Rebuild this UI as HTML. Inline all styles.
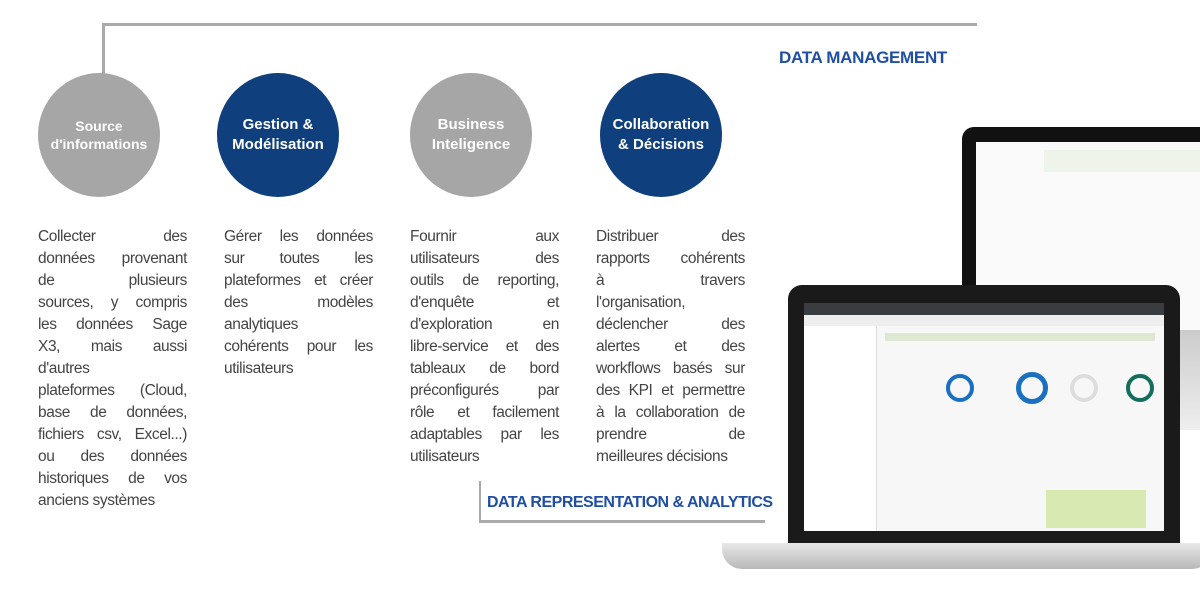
<!DOCTYPE html>
<html><head><meta charset="utf-8">
<style>
body{margin:0;width:1200px;height:600px;background:#fff;position:relative;overflow:hidden;font-family:"Liberation Sans",sans-serif;}
.ab{position:absolute;}
.circ{position:absolute;top:73px;width:122px;height:124px;border-radius:50%;color:#fff;font-weight:bold;font-size:15px;line-height:20px;display:flex;align-items:center;justify-content:center;text-align:center;}
.g{background:#a6a6a6;font-size:14px;line-height:18px;}
.b{background:#0f3f7c;}
.col{position:absolute;top:226px;width:149px;font-size:15.5px;letter-spacing:-0.4px;line-height:22px;color:#444;}
.col div{white-space:nowrap;height:22px;display:flex;justify-content:space-between;}
.col div.l{justify-content:flex-start;}
.title{position:absolute;color:#1f4fa3;font-weight:bold;font-size:17px;letter-spacing:-0.3px;z-index:5;}
</style></head><body>
<div class="ab" style="left:102px;top:23px;width:875px;height:3px;background:#aaa"></div>
<div class="ab" style="left:102px;top:23px;width:3px;height:52px;background:#aaa"></div>
<div class="title" style="left:779px;top:48px">DATA MANAGEMENT</div>

<div class="circ g" style="left:38px">Source<br>d'informations</div>
<div class="circ b" style="left:217px">Gestion &amp;<br>Modélisation</div>
<div class="circ g" style="left:410px;font-size:15px;line-height:20px">Business<br>Inteligence</div>
<div class="circ b" style="left:600px">Collaboration<br>&amp; Décisions</div>

<div class="col" style="left:38px">
<div><span>Collecter</span><span>des</span></div>
<div><span>données</span><span>provenant</span></div>
<div><span>de</span><span>plusieurs</span></div>
<div><span>sources,</span><span>y</span><span>compris</span></div>
<div><span>les</span><span>données</span><span>Sage</span></div>
<div><span>X3,</span><span>mais</span><span>aussi</span></div>
<div class="l"><span>d'autres</span></div>
<div><span>plateformes</span><span>(Cloud,</span></div>
<div><span>base</span><span>de</span><span>données,</span></div>
<div><span>fichiers</span><span>csv,</span><span>Excel...)</span></div>
<div><span>ou</span><span>des</span><span>données</span></div>
<div><span>historiques</span><span>de</span><span>vos</span></div>
<div class="l"><span>anciens systèmes</span></div>
</div>
<div class="col" style="left:224px">
<div><span>Gérer</span><span>les</span><span>données</span></div>
<div><span>sur</span><span>toutes</span><span>les</span></div>
<div><span>plateformes</span><span>et</span><span>créer</span></div>
<div><span>des</span><span>modèles</span></div>
<div class="l"><span>analytiques</span></div>
<div><span>cohérents</span><span>pour</span><span>les</span></div>
<div class="l"><span>utilisateurs</span></div>
</div>
<div class="col" style="left:410px">
<div><span>Fournir</span><span>aux</span></div>
<div><span>utilisateurs</span><span>des</span></div>
<div><span>outils</span><span>de</span><span>reporting,</span></div>
<div><span>d'enquête</span><span>et</span></div>
<div><span>d'exploration</span><span>en</span></div>
<div><span>libre-service</span><span>et</span><span>des</span></div>
<div><span>tableaux</span><span>de</span><span>bord</span></div>
<div><span>préconfigurés</span><span>par</span></div>
<div><span>rôle</span><span>et</span><span>facilement</span></div>
<div><span>adaptables</span><span>par</span><span>les</span></div>
<div class="l"><span>utilisateurs</span></div>
</div>
<div class="col" style="left:596px">
<div><span>Distribuer</span><span>des</span></div>
<div><span>rapports</span><span>cohérents</span></div>
<div><span>à</span><span>travers</span></div>
<div class="l"><span>l'organisation,</span></div>
<div><span>déclencher</span><span>des</span></div>
<div><span>alertes</span><span>et</span><span>des</span></div>
<div><span>workflows</span><span>basés</span><span>sur</span></div>
<div><span>des</span><span>KPI</span><span>et</span><span>permettre</span></div>
<div><span>à</span><span>la</span><span>collaboration</span><span>de</span></div>
<div><span>prendre</span><span>de</span></div>
<div class="l"><span>meilleures décisions</span></div>
</div>

<div class="ab" style="left:479px;top:481px;width:2px;height:41px;background:#aaa"></div>
<div class="ab" style="left:479px;top:520px;width:286px;height:3px;background:#aaa"></div>
<div class="title" style="left:487px;top:494px;font-size:16px;letter-spacing:-0.5px">DATA REPRESENTATION &amp; ANALYTICS</div>

<!-- monitor -->
<div class="ab" style="left:962px;top:127px;width:260px;height:220px;background:#111;border-radius:12px"></div>
<div class="ab" style="left:976px;top:142px;width:230px;height:190px;background:#fafafa"></div>
<div class="ab" style="left:1044px;top:150px;width:160px;height:22px;background:#eef4ea"></div>
<div class="ab" style="left:1164px;top:330px;width:36px;height:100px;background:linear-gradient(#ccc,#eee)"></div>
<!-- laptop -->
<div class="ab" style="left:788px;top:285px;width:392px;height:260px;background:#1a1a1a;border-radius:14px 14px 0 0"></div>
<div class="ab" style="left:804px;top:303px;width:360px;height:228px;background:#f7f7f7"></div>
<div class="ab" style="left:804px;top:303px;width:360px;height:12px;background:#3a3d40"></div>
<div class="ab" style="left:804px;top:315px;width:360px;height:11px;background:#eee"></div>
<div class="ab" style="left:804px;top:326px;width:72px;height:205px;background:#fff;border-right:1px solid #ddd"></div>
<div class="ab" style="left:885px;top:333px;width:270px;height:8px;background:#dfe8d3"></div>
<div class="ab" style="left:1016px;top:372px;width:22px;height:22px;border:5px solid #1b6fc0;border-radius:50%"></div>
<div class="ab" style="left:946px;top:374px;width:20px;height:20px;border:4px solid #1b6fc0;border-radius:50%"></div>
<div class="ab" style="left:1070px;top:374px;width:20px;height:20px;border:4px solid #ddd;border-radius:50%"></div>
<div class="ab" style="left:1126px;top:374px;width:20px;height:20px;border:4px solid #136e5e;border-radius:50%"></div>
<div class="ab" style="left:1046px;top:490px;width:100px;height:38px;background:#d8eab2"></div>
<div class="ab" style="left:722px;top:543px;width:490px;height:26px;background:linear-gradient(#e8e8e8,#b8b8b8);border-radius:0 0 20px 20px"></div>
</body></html>
